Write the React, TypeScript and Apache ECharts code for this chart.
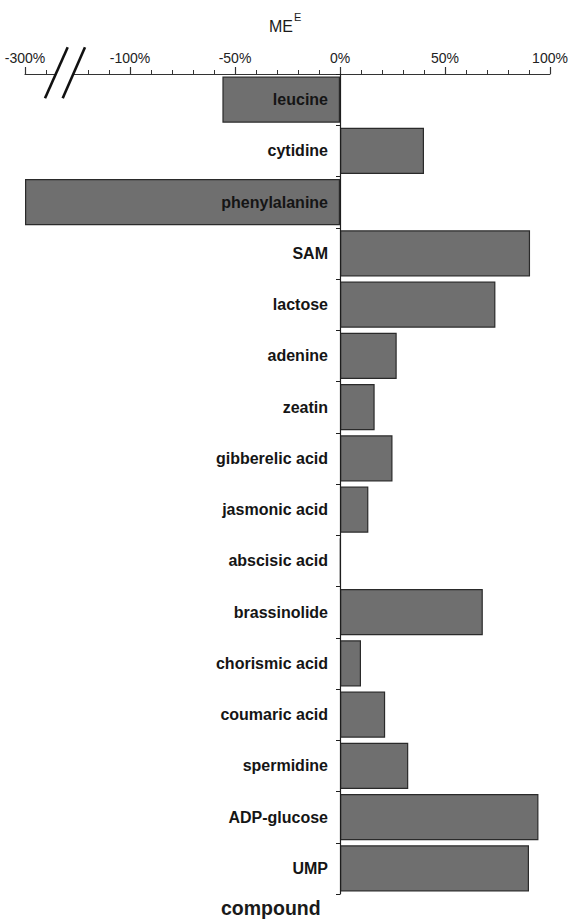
import React, { useEffect, useRef } from "react";
import * as echarts from "echarts";

// Compounds, top to bottom
const categories = [
  "leucine",
  "cytidine",
  "phenylalanine",
  "SAM",
  "lactose",
  "adenine",
  "zeatin",
  "gibberelic acid",
  "jasmonic acid",
  "abscisic acid",
  "brassinolide",
  "chorismic acid",
  "coumaric acid",
  "spermidine",
  "ADP-glucose",
  "UMP",
];

// ME^E in percent
const meValues = [
  -56, 40, -300, 90.5, 74, 27, 16.5, 25, 13.5, 0.3, 68, 10, 21.5, 32.5, 94.5, 90,
];

// Values shown on the (broken) value axis
const tickValues = [-300, -100, -50, 0, 50, 100];

// Below BREAK_AT the axis is compressed: 200 units there take the room of 50
const BREAK_AT = -100;
const COMPRESSION = 0.25;
const toAxis = (v: number) => (v >= BREAK_AT ? v : BREAK_AT + (v - BREAK_AT) * COMPRESSION);
const fromAxis = (d: number) => (d >= BREAK_AT ? d : BREAK_AT + (d - BREAK_AT) / COMPRESSION);

const FONT = "'Liberation Sans', Arial, Helvetica, sans-serif";
const GRID_LEFT = 25;
const GRID_RIGHT = 21;
const WIDTH = 571;

export default function App() {
  const ref = useRef<HTMLDivElement>(null);

  useEffect(() => {
    if (!ref.current) return;
    const chart = echarts.init(ref.current, null, { renderer: "svg" });
    const axisMin = toAxis(tickValues[0]);
    const axisMax = toAxis(tickValues[tickValues.length - 1]);
    // the category axis sits on the zero line of the value axis
    const plotWidth = WIDTH - GRID_LEFT - GRID_RIGHT;
    const zeroOffset = ((0 - axisMin) / (axisMax - axisMin)) * plotWidth;

    chart.setOption({
      animation: false,
      backgroundColor: "#ffffff",
      textStyle: { fontFamily: FONT },
      grid: {
        left: GRID_LEFT,
        right: GRID_RIGHT,
        top: 74,
        bottom: 27,
        containLabel: false,
        outerBoundsMode: "none",
      },
      xAxis: {
        type: "value",
        position: "top",
        min: axisMin,
        max: axisMax,
        interval: 50,
        axisLine: { show: true, onZero: false, lineStyle: { color: "#333333", width: 1.2 } },
        axisTick: { show: true, length: 7, lineStyle: { color: "#333333", width: 1.2 } },
        minorTick: { show: true, splitNumber: 5, length: 4, lineStyle: { color: "#333333", width: 1 } },
        splitLine: { show: false },
        axisLabel: {
          margin: 9,
          fontSize: 14,
          color: "#222222",
          fontFamily: FONT,
          formatter: (d: number) => `${Math.round(fromAxis(d))}%`,
        },
      },
      yAxis: {
        type: "category",
        inverse: true,
        data: categories,
        position: "left",
        offset: -zeroOffset,
        z: 5,
        axisLine: { show: true, onZero: false, lineStyle: { color: "#1e1e1e", width: 1.2 } },
        axisTick: { show: true, length: 4, interval: 0, lineStyle: { color: "#1e1e1e", width: 1 } },
        axisLabel: {
          interval: 0,
          margin: 12,
          fontSize: 16,
          fontWeight: "bold",
          color: "#151515",
          fontFamily: FONT,
        },
      },
      series: [
        {
          type: "bar",
          data: meValues.map((v) => toAxis(v)),
          barCategoryGap: "10%",
          itemStyle: { color: "#6f6f6f", borderColor: "#2a2a2a", borderWidth: 1.2 },
        },
      ],
      graphic: [
        // axis title ME^E
        {
          type: "text",
          left: 269,
          top: 18,
          style: { text: "ME", fontSize: 16, fontFamily: FONT, fill: "#1a1a1a" },
        },
        {
          type: "text",
          left: 294,
          top: 11,
          style: { text: "E", fontSize: 11, fontFamily: FONT, fill: "#1a1a1a" },
        },
        // gap in the axis line between the break marks
        {
          type: "polygon",
          z: 100,
          shape: { points: [[58, 68], [75.5, 68], [71.5, 78], [54, 78]] },
          style: { fill: "#ffffff" },
        },
        // axis break marks
        {
          type: "line",
          z: 101,
          shape: { x1: 67.7, y1: 47.3, x2: 45, y2: 98.3 },
          style: { stroke: "#111111", lineWidth: 2.6 },
        },
        {
          type: "line",
          z: 101,
          shape: { x1: 85, y1: 47.3, x2: 62.7, y2: 98.3 },
          style: { stroke: "#111111", lineWidth: 2.6 },
        },
        // category axis title
        {
          type: "text",
          left: 221,
          top: 898,
          style: {
            text: "compound",
            fontSize: 19.5,
            fontWeight: "bold",
            fontFamily: FONT,
            fill: "#1a1a1a",
          },
        },
      ],
    });

    return () => chart.dispose();
  }, []);

  return (
    <div
      ref={ref}
      style={{ position: "fixed", left: 0, top: 0, width: WIDTH, height: 921, background: "#fff" }}
    />
  );
}
